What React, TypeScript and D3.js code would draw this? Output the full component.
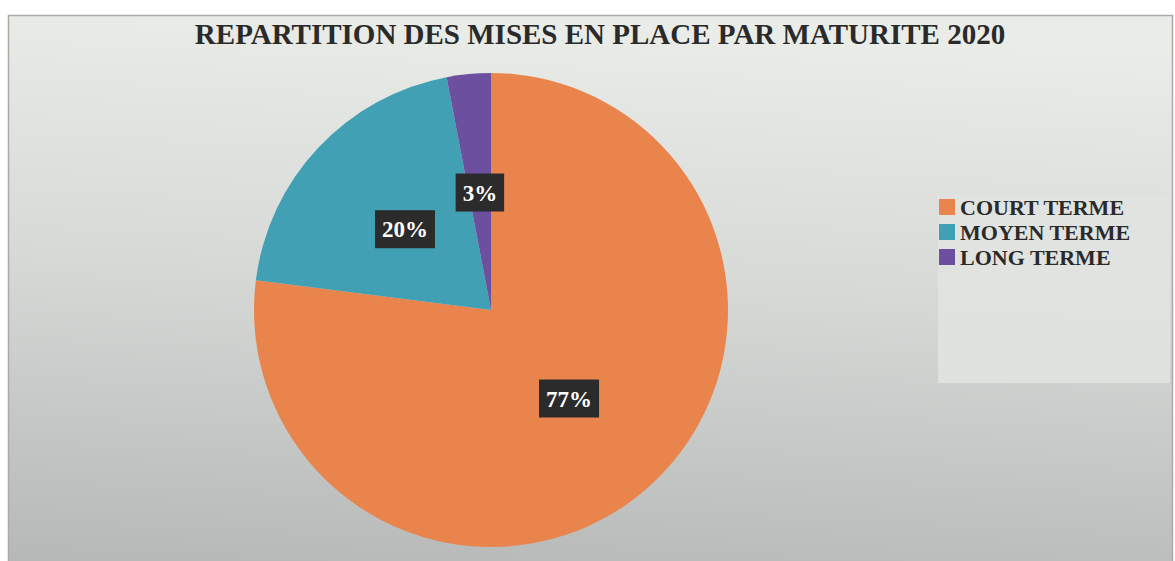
import React, { useEffect, useRef } from 'react';
import * as d3 from 'd3';

const categories = ['COURT TERME', 'MOYEN TERME', 'LONG TERME'];
const values = [77, 20, 3];
const colors = ['#e9854c', '#41a0b4', '#6c4f9e'];
const title = 'REPARTITION DES MISES EN PLACE PAR MATURITE 2020';

const serif = '"Liberation Serif", "Times New Roman", serif';

const App = () => {
  const svgRef = useRef<SVGSVGElement>(null);

  useEffect(() => {
    const w = 1175;
    const h = 561;
    const svg = d3.select(svgRef.current).attr('width', w).attr('height', h);
    svg.selectAll('*').remove();

    const defs = svg.append('defs');
    const grad = defs
      .append('linearGradient')
      .attr('id', 'bg')
      .attr('x1', '0.3')
      .attr('y1', '0')
      .attr('x2', '0.2')
      .attr('y2', '1');
    grad.append('stop').attr('offset', '0%').attr('stop-color', '#eaece8');
    grad.append('stop').attr('offset', '45%').attr('stop-color', '#d6d9d6');
    grad.append('stop').attr('offset', '100%').attr('stop-color', '#b6b8b7');

    svg.append('rect').attr('width', w).attr('height', h).attr('fill', '#ffffff');

    // chart frame
    svg
      .append('rect')
      .attr('x', 8.5)
      .attr('y', 15.5)
      .attr('width', 1164)
      .attr('height', 560)
      .attr('fill', 'url(#bg)')
      .attr('stroke', '#a9aba9')
      .attr('stroke-width', 1.5);

    svg
      .append('text')
      .attr('x', 600)
      .attr('y', 44)
      .attr('text-anchor', 'middle')
      .attr('font-family', serif)
      .attr('font-weight', 'bold')
      .attr('font-size', 29)
      .attr('fill', '#2a2a2a')
      .text(title);

    // pie
    const cx = 491;
    const cy = 310;
    const r = 237;
    const data = categories.map((c, i) => ({ name: c, value: values[i], color: colors[i] }));
    const pie = d3
      .pie<any>()
      .value((d) => d.value)
      .sort(null);
    const arcs = pie(data);
    const arc = d3.arc<any>().innerRadius(0).outerRadius(r);
    const labelArc = d3.arc<any>().innerRadius(118).outerRadius(118);

    const g = svg.append('g').attr('transform', `translate(${cx},${cy})`);
    g.selectAll('path.slice')
      .data(arcs)
      .join('path')
      .attr('class', 'slice')
      .attr('d', arc)
      .attr('fill', (d) => d.data.color);

    const labels = g
      .selectAll('g.lbl')
      .data(arcs)
      .join('g')
      .attr('class', 'lbl')
      .attr('transform', (d) => {
        const [x, y] = labelArc.centroid(d);
        return `translate(${x},${y})`;
      });

    labels.each(function (d) {
      const sel = d3.select(this);
      const t = sel
        .append('text')
        .attr('text-anchor', 'middle')
        .attr('dy', '0.35em')
        .attr('font-family', serif)
        .attr('font-weight', 'bold')
        .attr('font-size', 23)
        .attr('fill', '#ffffff')
        .text(`${d.data.value}%`);
      const bb = (t.node() as SVGTextElement).getBBox();
      sel
        .insert('rect', 'text')
        .attr('x', bb.x - 7)
        .attr('y', -19)
        .attr('width', bb.width + 14)
        .attr('height', 38)
        .attr('fill', '#2b2b2b');
    });

    // legend
    svg
      .append('rect')
      .attr('x', 938)
      .attr('y', 195)
      .attr('width', 232)
      .attr('height', 188)
      .attr('fill', '#e1e3e0')
      .attr('opacity', 0.9);

    const leg = svg
      .selectAll('g.leg')
      .data(data)
      .join('g')
      .attr('class', 'leg')
      .attr('transform', (d, i) => `translate(939,${199 + i * 25})`);
    leg
      .append('rect')
      .attr('width', 16)
      .attr('height', 16)
      .attr('fill', (d) => d.color);
    leg
      .append('text')
      .attr('x', 21)
      .attr('y', 16)
      .attr('font-family', serif)
      .attr('font-weight', 'bold')
      .attr('font-size', 22)
      .attr('fill', '#2a2a2a')
      .text((d) => d.name);
  }, []);

  return <svg ref={svgRef} style={{ position: 'absolute', left: 0, top: 0, display: 'block' }}></svg>;
};

export default App;
